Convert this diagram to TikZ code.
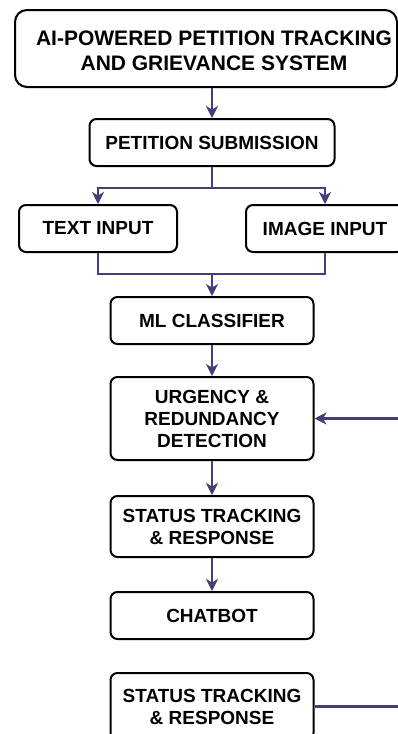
\documentclass[tikz,border=0pt]{standalone}
\usepackage{fontspec}
\setmainfont{Liberation Sans}
\usetikzlibrary{arrows.meta}
\definecolor{conncol}{HTML}{4B3B7A}
\tikzset{
  box/.style={draw=black, line width=2pt, rounded corners=7pt, align=center, inner sep=0pt,
    font=\fontsize{19}{22}\selectfont\bfseries},
  label/.style={align=center, inner sep=0pt},
  conn/.style={draw=conncol, line width=2.2pt},
  arr/.style={conn, -{Stealth[length=12pt,width=12pt,inset=3.5pt]}}
}
\begin{document}
\begin{tikzpicture}[x=1pt,y=-1pt]
\useasboundingbox (0,0) rectangle (398,734);
\clip (0,0) rectangle (398,734);
\node[box, rounded corners=12pt, minimum width=382pt, minimum height=77pt] (title) at (206,48.5) {};
\node[label, font=\fontsize{21}{25}\selectfont\bfseries] (titletext) at (214,50.5) {AI-POWERED PETITION TRACKING\\AND GRIEVANCE SYSTEM};
\node[box, minimum width=245pt, minimum height=47pt] (sub) at (212,142.5) {PETITION SUBMISSION};
\node[box, minimum width=158pt, minimum height=47pt] (text) at (98,228.5) {TEXT INPUT};
\node[box, minimum width=158pt, minimum height=47pt] (img) at (325,228.5) {IMAGE INPUT};
\node[box, minimum width=203pt, minimum height=47pt] (ml) at (212,320.5) {ML CLASSIFIER};
\node[box, minimum width=203pt, minimum height=83pt] (urg) at (212,418.5) {URGENCY \&\\REDUNDANCY\\DETECTION};
\node[box, minimum width=203pt, minimum height=61pt] (st1) at (212,526.5) {STATUS TRACKING\\\& RESPONSE};
\node[box, minimum width=203pt, minimum height=47pt] (chat) at (212,615.5) {CHATBOT};
\node[box, minimum width=203pt, minimum height=67pt] (st2) at (212,706.5) {STATUS TRACKING\\\& RESPONSE};
\coordinate (split) at (212,188);
\coordinate (merge) at (212,274);
\draw[arr] (sub.north |- title.south) -- (sub.north);
\draw[conn] (sub.south) -- (split);
\draw[arr] (split) -| (text.north);
\draw[arr] (split) -| (img.north);
\draw[conn] (text.south) |- (merge);
\draw[conn] (img.south) |- (merge);
\draw[arr] (merge) -- (ml.north);
\draw[arr] (ml.south) -- (urg.north);
\draw[arr] (urg.south) -- (st1.north);
\draw[arr] (st1.south) -- (chat.north);
\draw[arr] (st2.east) -- ++(85,0) |- (urg.east);
\end{tikzpicture}
\end{document}
